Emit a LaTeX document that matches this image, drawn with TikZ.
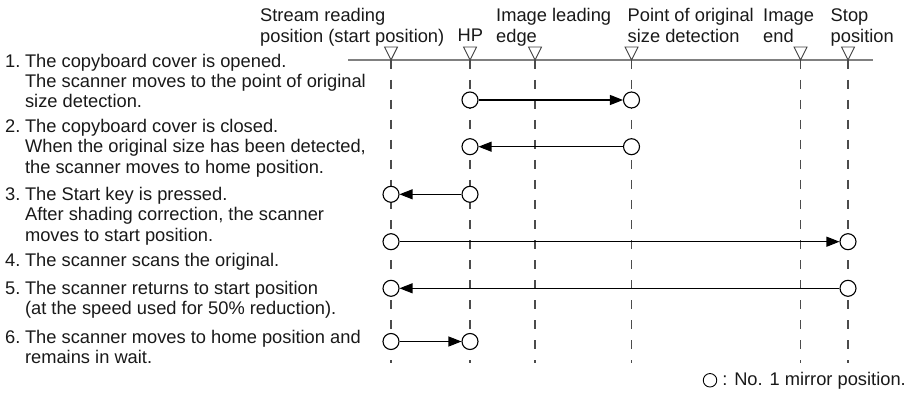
\documentclass[tikz,border=0pt]{standalone}
\usepackage{fontspec}
\setmainfont{Liberation Sans}
\usetikzlibrary{positioning, arrows.meta}

\begin{document}
\begin{tikzpicture}[
    x=1pt, y=-1pt,
    every node/.style={font=\fontsize{18.3}{20.2}\selectfont, text=black!90, inner sep=0pt},
    caption/.style={anchor=base west},
    mirror/.style={circle, draw, line width=1.1pt, fill=white, minimum size=16pt},
    move/.style={-{Triangle[length=13pt, width=10pt]}, line width=1.2pt},
    guide/.style={draw=black!70, line width=1.1pt, dash pattern=on 9pt off 11pt},
    marker/.style={draw=black!75, line width=0.9pt, fill=white}
]
\useasboundingbox (0,0) rectangle (911,393);

% scale with the stop points
\coordinate (axisL) at (348,60);
\coordinate (axisR) at (873,60);
\draw[black!50, line width=1.4pt] (axisL) -- (axisR);

\foreach \name/\x in {start/391, hp/470, lead/535, detect/631.5, iend/800.5, stop/848} {
    \coordinate (\name) at (\x,60);
    \coordinate (\name-end) at (\x,363);
    \draw[guide] (\name) -- (\name-end);
    \draw[marker] (\name) -- ++(-6.5,-13) -- ++(13,0) -- cycle;
}

\node[caption] (hstream) at (260,22) {\begin{tabular}[t]{@{}l@{}}Stream reading\\position (start position)\end{tabular}};
\node[caption] (hhp) at (457.5,42) {HP};
\node[caption] (hlead) at (496,22) {\begin{tabular}[t]{@{}l@{}}Image leading\\edge\end{tabular}};
\node[caption] (hdetect) at (627.5,22) {\begin{tabular}[t]{@{}l@{}}Point of original\\size detection\end{tabular}};
\node[caption] (hiend) at (763,22) {\begin{tabular}[t]{@{}l@{}}Image\\end\end{tabular}};
\node[caption] (hstop) at (830.5,22) {\begin{tabular}[t]{@{}l@{}}Stop\\position\end{tabular}};

% steps
\node[caption] (step1) at (5,67.3) {\begin{tabular}[t]{@{}l@{\hspace{4.6pt}}l@{}}1.&The copyboard cover is opened.\\&The scanner moves to the point of original\\&size detection.\end{tabular}};
\node[caption] (step2) at (5,132.7) {\begin{tabular}[t]{@{}l@{\hspace{4.6pt}}l@{}}2.&The copyboard cover is closed.\\&When the original size has been detected,\\&the scanner moves to home position.\end{tabular}};
\node[caption] (step3) at (5,200.7) {\begin{tabular}[t]{@{}l@{\hspace{4.6pt}}l@{}}3.&The Start key is pressed.\\&After shading correction, the scanner\\&moves to start position.\end{tabular}};
\node[caption] (step4) at (5,266) {\begin{tabular}[t]{@{}l@{\hspace{4.6pt}}l@{}}4.&The scanner scans the original.\end{tabular}};
\node[caption] (step5) at (5,294.3) {\begin{tabular}[t]{@{}l@{\hspace{4.6pt}}l@{}}5.&The scanner returns to start position\\&(at the speed used for 50\% reduction).\end{tabular}};
\node[caption] (step6) at (5,343.3) {\begin{tabular}[t]{@{}l@{\hspace{4.6pt}}l@{}}6.&The scanner moves to home position and\\&remains in wait.\end{tabular}};

% mirror moves
\node[mirror] (m1a) at (470,100) {};
\node[mirror] (m1b) at (631.5,100) {};
\draw[move] (m1a) -- (m1b);

\node[mirror] (m2a) at (631.5,146.7) {};
\node[mirror] (m2b) at (470,146.7) {};
\draw[move] (m2a) -- (m2b);

\node[mirror] (m3a) at (470,194.3) {};
\node[mirror] (m3b) at (391,194.3) {};
\draw[move] (m3a) -- (m3b);

\node[mirror] (m4a) at (391,241.7) {};
\node[mirror] (m4b) at (848,241.7) {};
\draw[move] (m4a) -- (m4b);

\node[mirror] (m5a) at (848,288.3) {};
\node[mirror] (m5b) at (391,288.3) {};
\draw[move] (m5a) -- (m5b);

\node[mirror] (m6a) at (391,341.5) {};
\node[mirror] (m6b) at (470,341.5) {};
\draw[move] (m6a) -- (m6b);

\node[anchor=base east] (keytext) at (906,385) {: No. 1 mirror position.};
\node[mirror, line width=0.9pt, minimum size=13.5pt, left=5pt of keytext] (key) {};

\end{tikzpicture}
\end{document}
